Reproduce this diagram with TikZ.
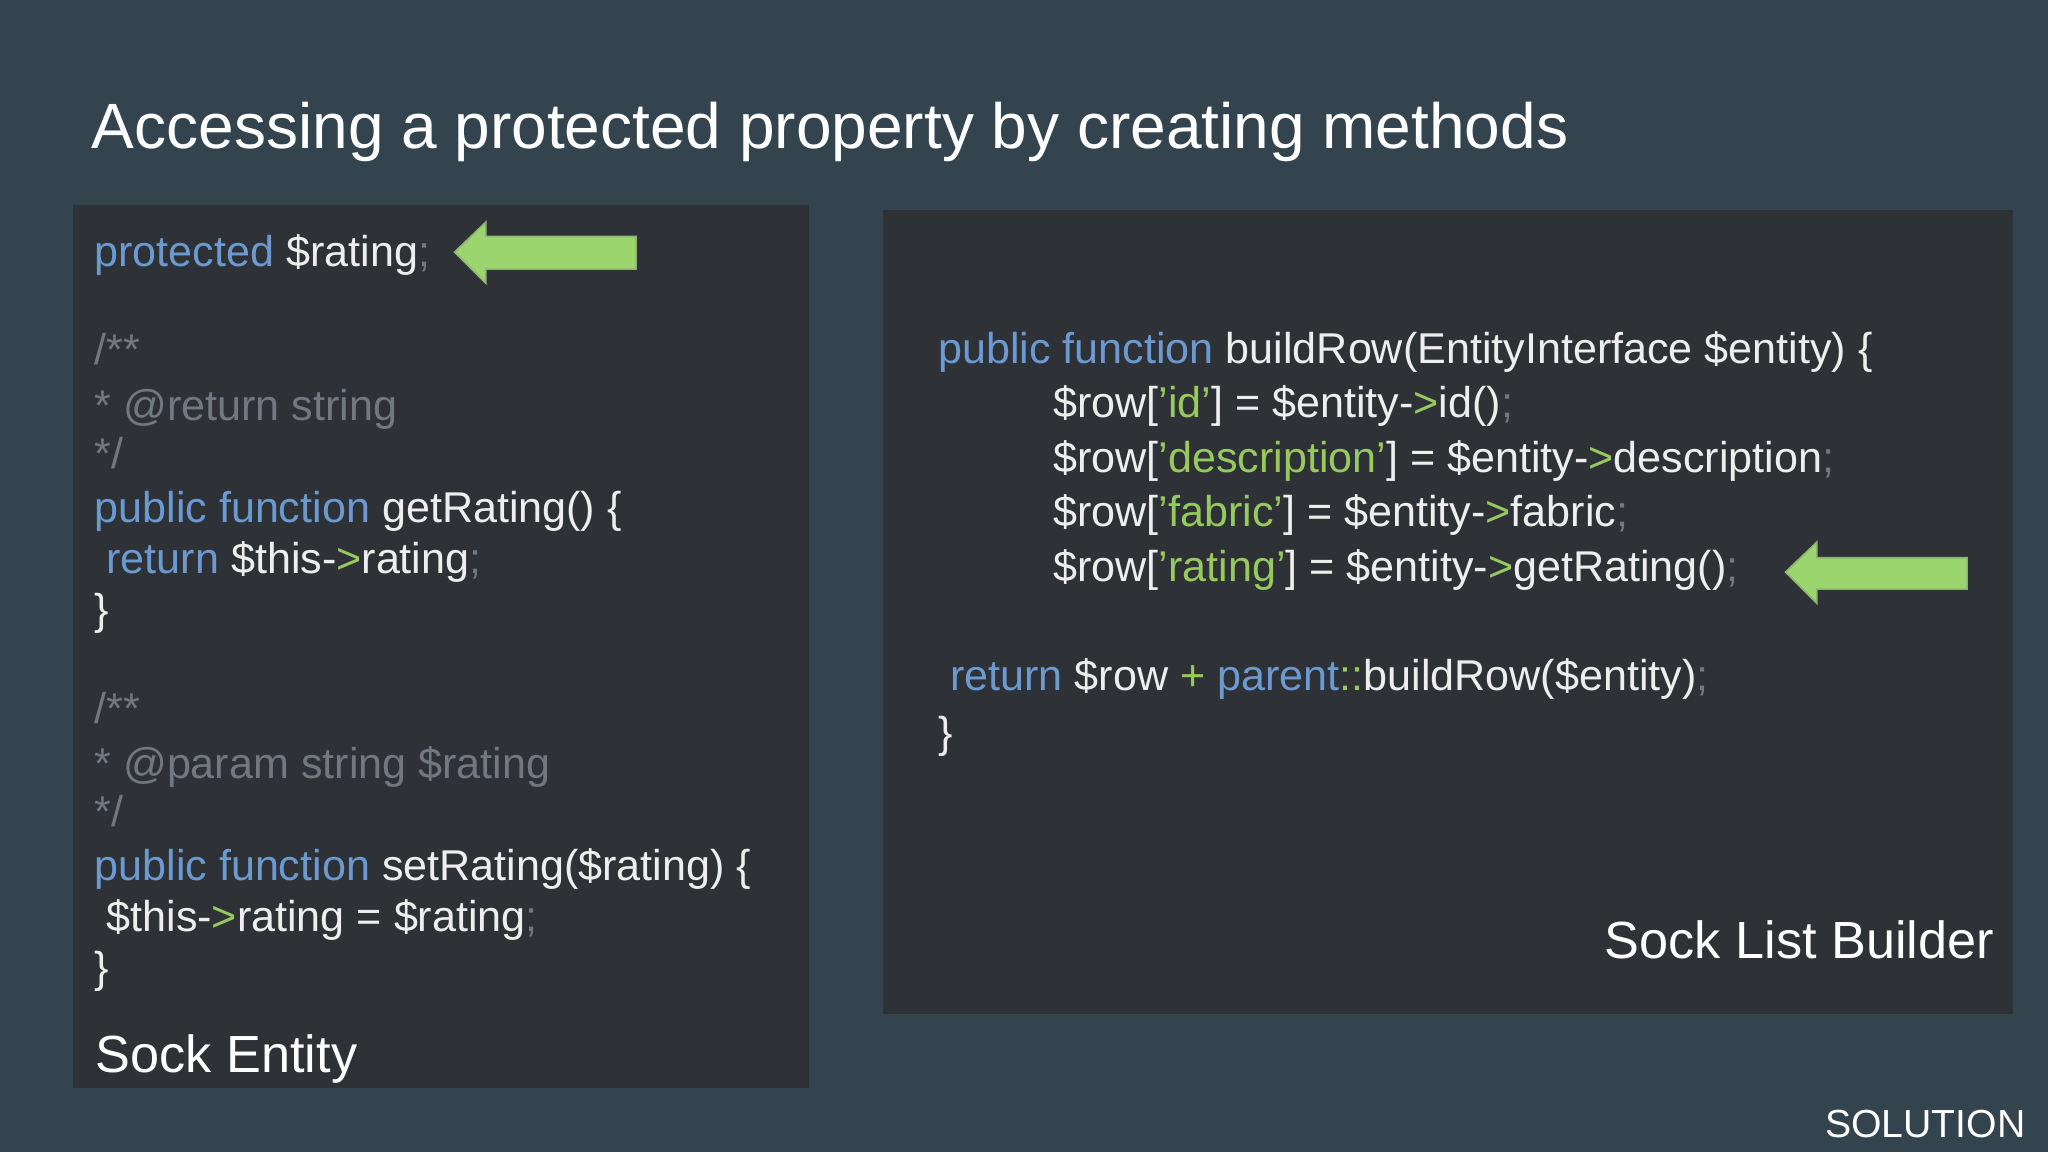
\documentclass[tikz,border=0pt]{standalone}
\usepackage{fontspec}
\setmainfont{Liberation Sans}
\definecolor{bg}{HTML}{34444F}
\definecolor{box}{HTML}{2E3237}
\definecolor{kwc}{HTML}{6C9AD0}
\definecolor{stc}{HTML}{96C95E}
\definecolor{cmc}{HTML}{727880}
\definecolor{txc}{HTML}{EEEEEE}
\definecolor{arr}{HTML}{9BD56E}
\newcommand{\kw}[1]{\textcolor{kwc}{#1}}
\newcommand{\stx}[1]{\textcolor{stc}{#1}}
\newcommand{\pn}[1]{\textcolor{cmc}{#1}}
\tikzset{
  code/.style={anchor=base west,inner sep=0pt,text=txc,font=\fontsize{16.5}{20}\selectfont},
  cmt/.style={code,text=cmc},
  panel/.style={fill=box,draw=none},
  garrow/.style={fill=arr,draw=arr!60!gray,line width=0.6pt}
}
\begin{document}
\begin{tikzpicture}[x=0.5pt,y=-0.5pt]
\fill[bg] (0,0) rectangle (1568,882);
\useasboundingbox (0,0) rectangle (1568,882);
\node[anchor=base west,inner sep=0pt,text=white,font=\fontsize{24.5}{28}\selectfont] (title) at (70,114) {Accessing a protected property by creating methods};
\fill[panel] (56,157) rectangle (619,833);
\fill[panel] (676,161) rectangle (1541,776);
% left code
\node[code] (l1) at (72,204) {\kw{protected} \$rating\pn{;}};
\node[cmt] (l2) at (72,279) {/**};
\node[cmt] (l3) at (72,322) {* @return string};
\node[cmt] (l4) at (72,359) {*/};
\node[code] (l5) at (72,400) {\kw{public function} getRating() \{};
\node[code] (l6) at (72,439) {\ \kw{return} \$this-\stx{>}rating\pn{;}};
\node[code] (l7) at (72,478) {\}};
\node[cmt] (l8) at (72,554) {/**};
\node[cmt] (l9) at (72,596) {* @param string \$rating};
\node[cmt] (l10) at (72,633) {*/};
\node[code] (l11) at (72,674) {\kw{public function} setRating(\$rating) \{};
\node[code] (l12) at (72,713) {\ \$this-\stx{>}rating = \$rating\pn{;}};
\node[code] (l13) at (72,752) {\}};
\node[anchor=base west,inner sep=0pt,text=white,font=\fontsize{20}{24}\selectfont] (se) at (73,821) {Sock Entity};
% right code
\node[code] (r1) at (718,278) {\kw{public function} buildRow(EntityInterface \$entity) \{};
\node[code] (r2) at (806,320) {\$row[\stx{'id'}] = \$entity-\stx{>}id()\pn{;}};
\node[code] (r3) at (806,362) {\$row[\stx{'description'}] = \$entity-\stx{>}description\pn{;}};
\node[code] (r4) at (806,403) {\$row[\stx{'fabric'}] = \$entity-\stx{>}fabric\pn{;}};
\node[code] (r5) at (806,445) {\$row[\stx{'rating'}] = \$entity-\stx{>}getRating()\pn{;}};
\node[code] (r6) at (718,529) {\ \kw{return} \$row \stx{+} \kw{parent}\stx{::}buildRow(\$entity)\pn{;}};
\node[code] (r7) at (718,572) {\}};
\node[anchor=base east,inner sep=0pt,text=white,font=\fontsize{20}{24}\selectfont] (slb) at (1527,734) {Sock List Builder};
\node[anchor=base east,inner sep=0pt,text=white,font=\fontsize{15}{18}\selectfont] (sol) at (1551,871) {SOLUTION};
% arrows
\draw[garrow] (348,193) -- (372,170) -- (372,181) -- (487,181) -- (487,206) -- (372,206) -- (372,217) -- cycle;
\draw[garrow] (1367,438) -- (1391,415) -- (1391,427) -- (1506,427) -- (1506,451) -- (1391,451) -- (1391,462) -- cycle;
\end{tikzpicture}
\end{document}
